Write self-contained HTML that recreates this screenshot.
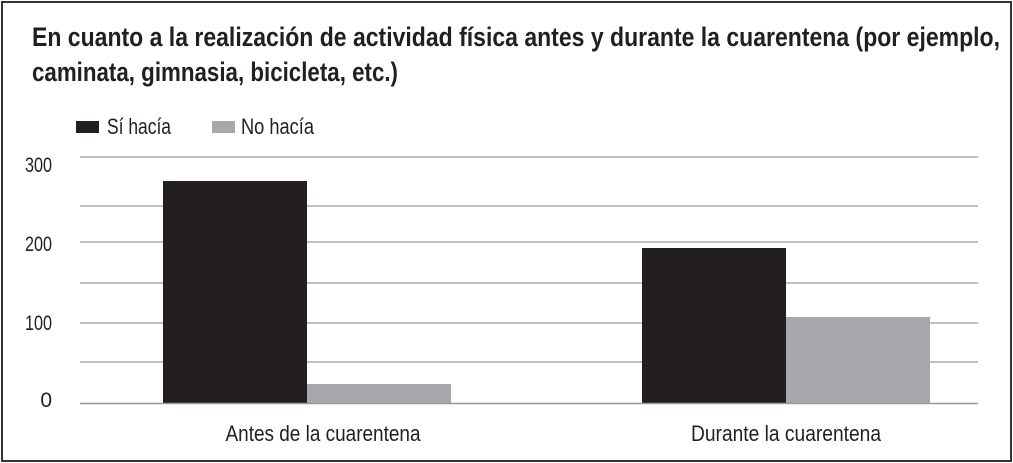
<!DOCTYPE html>
<html><head><meta charset="utf-8"><style>
html,body{margin:0;padding:0;background:#fff;}
svg{display:block;}
text{font-family:"Liberation Sans Narrow","Liberation Sans",sans-serif;fill:#231f20;}
</style></head><body>
<svg width="1013" height="463" viewBox="0 0 1013 463" xmlns="http://www.w3.org/2000/svg">
<rect x="2" y="2" width="1009" height="459" fill="#fff" stroke="#333" stroke-width="2"/>
<text x="32" y="46" font-size="27" font-weight="bold" textLength="968" lengthAdjust="spacingAndGlyphs">En cuanto a la realización de actividad física antes y durante la cuarentena (por ejemplo,</text>
<text x="32" y="81" font-size="27" font-weight="bold" textLength="366" lengthAdjust="spacingAndGlyphs">caminata, gimnasia, bicicleta, etc.)</text>
<rect x="76" y="121" width="23" height="12" fill="#231f20"/>
<text x="107" y="134" font-size="22" textLength="64" lengthAdjust="spacingAndGlyphs">Sí hacía</text>
<rect x="212" y="121" width="23" height="12" fill="#a7a8ab"/>
<text x="241" y="134" font-size="22" textLength="73" lengthAdjust="spacingAndGlyphs">No hacía</text>
<g stroke="#9a9a9a" stroke-width="1.3">
<line x1="80" x2="978" y1="157" y2="157"/>
<line x1="80" x2="978" y1="206" y2="206"/>
<line x1="80" x2="978" y1="242" y2="242"/>
<line x1="80" x2="978" y1="283" y2="283"/>
<line x1="80" x2="978" y1="323" y2="323"/>
<line x1="80" x2="978" y1="362" y2="362"/>
</g>
<g font-size="21" text-anchor="end">
<text x="52" y="172" textLength="27" lengthAdjust="spacingAndGlyphs">300</text>
<text x="52" y="251" textLength="27" lengthAdjust="spacingAndGlyphs">200</text>
<text x="52" y="330" textLength="27" lengthAdjust="spacingAndGlyphs">100</text>
<text x="52" y="407">0</text>
</g>
<rect x="163" y="181" width="144" height="222" fill="#231f20"/>
<rect x="307" y="384" width="144" height="19" fill="#a7a8ab"/>
<rect x="642" y="248" width="144" height="155" fill="#231f20"/>
<rect x="786" y="317" width="144" height="86" fill="#a7a8ab"/>
<line x1="80" x2="978" y1="403.5" y2="403.5" stroke="#9a9a9a" stroke-width="1.5"/>
<text x="323" y="441" font-size="22" text-anchor="middle" textLength="195" lengthAdjust="spacingAndGlyphs">Antes de la cuarentena</text>
<text x="786" y="441" font-size="22" text-anchor="middle" textLength="190" lengthAdjust="spacingAndGlyphs">Durante la cuarentena</text>
</svg>
</body></html>
